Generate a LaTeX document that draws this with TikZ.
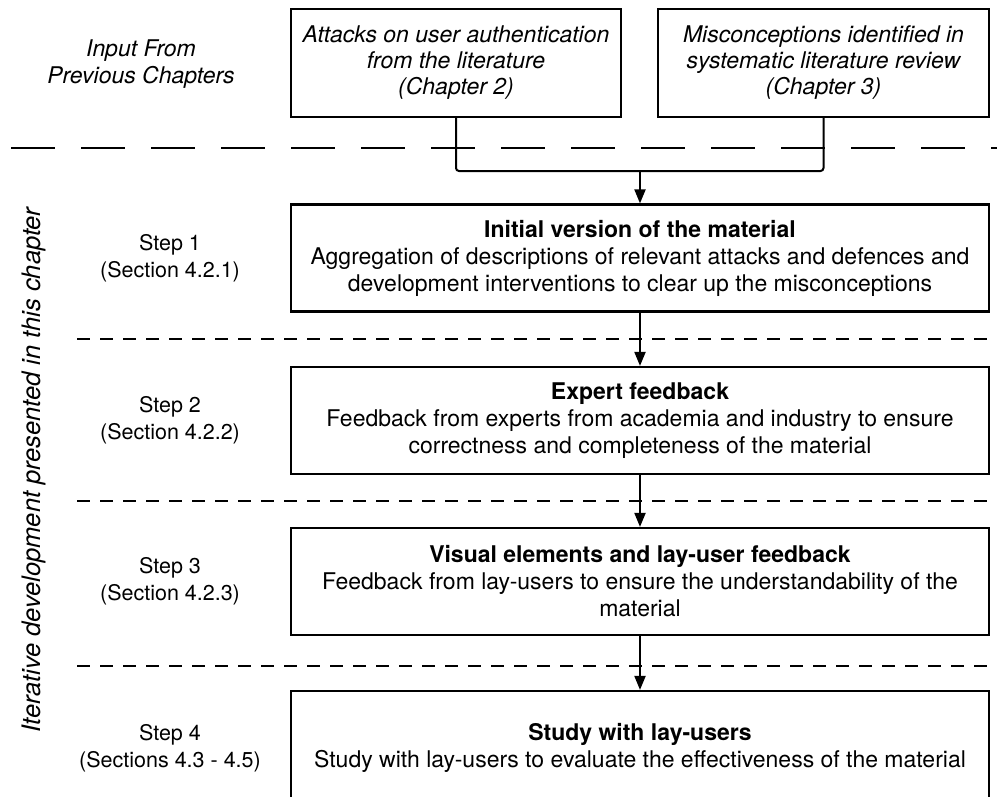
\documentclass[tikz,border=0pt]{standalone}
\usepackage{fontspec}
\setmainfont{TeX Gyre Heros}
\usetikzlibrary{arrows.meta}

\tikzset{
    box/.style = {draw, line width = 2.2pt, align = center, inner sep = 0pt},
    inbox/.style = {box, minimum width = 330pt, minimum height = 108pt, font = \fontsize{23}{26}\selectfont\itshape},
    stepbox/.style = {box, minimum width = 698pt, minimum height = 107pt},
    steplabel/.style = {align = center, font = \fontsize{21.5}{27}\selectfont},
    sep/.style = {line width = 2.4pt, dash pattern = on 13pt off 10pt},
    flow/.style = {line width = 2pt, -{Triangle[length = 14pt, width = 11pt]}}
}

\begin{document}
\begin{tikzpicture}[x = 1pt, y = -1pt, font = \fontsize{23}{27}\selectfont]
        \clip (0, 0) rectangle (997, 796);

        % input from earlier chapters
        \node [align = center, font = \fontsize{23}{27}\selectfont\itshape] (input) at (141, 64) {Input From\\Previous Chapters};
        \node [inbox] (att) at (456, 63) {Attacks on user authentication\\from the literature\\(Chapter 2)};
        \node [inbox, minimum width = 331pt] (mis) at (823.5, 63) {Misconceptions identified in\\systematic literature review\\(Chapter 3)};

        \draw [line width = 2.4pt, dash pattern = on 44pt off 26pt] (11, 148) -- (997, 148);

        % steps of this chapter
        \node [stepbox] (init) at (640, 258) {\textbf{Initial version of the material}\\Aggregation of descriptions of relevant attacks and defences and\\development interventions to clear up the misconceptions};
        \node [stepbox] (expert) at (640, 420.5) {\textbf{Expert feedback}\\Feedback from experts from academia and industry to ensure\\correctness and completeness of the material};
        \node [stepbox] (visual) at (640, 581.5) {\textbf{Visual elements and lay-user feedback}\\Feedback from lay-users to ensure the understandability of the\\material};
        \node [stepbox, minimum height = 114pt] (study) at (640, 748) {\textbf{Study with lay-users}\\Study with lay-users to evaluate the effectiveness of the material};

        \node [steplabel] (s1) at (170, 258) {Step 1\\(Section 4.2.1)};
        \node [steplabel] (s2) at (170, 420.5) {Step 2\\(Section 4.2.2)};
        \node [steplabel] (s3) at (170, 581.5) {Step 3\\(Section 4.2.3)};
        \node [steplabel] (s4) at (170, 748) {Step 4\\(Sections 4.3 - 4.5)};

        \node [rotate = 90, font = \fontsize{25.5}{27}\selectfont\itshape] (iter) at (34, 470) {Iterative development presented in this chapter};

        \foreach \y in {339, 501, 666}
            \draw [sep] (77, \y) -- (997, \y);

        % connectors
        \coordinate (join) at (640, 171);
        \draw [line width = 2pt, rounded corners = 3pt] (att.south) |- (join) -| (mis.south);
        \draw [flow] (join) -- (init.north);
        \draw [flow] (init) -- (expert);
        \draw [flow] (expert) -- (visual);
        \draw [flow] (visual) -- (study);
    \end{tikzpicture}
\end{document}
